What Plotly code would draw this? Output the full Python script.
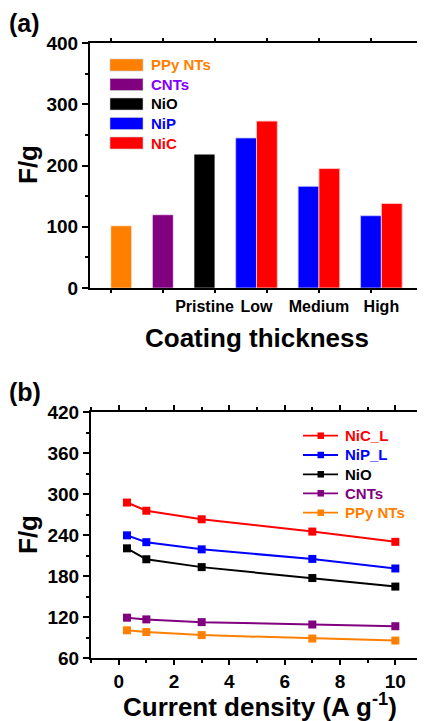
import plotly.graph_objects as go

# ---------------- data: panel (a) ----------------
single_names = ["PPy NTs", "CNTs", "NiO"]
single_pos = [1.5, 3.5, 5.5]
single_vals = [101.5, 119.5, 218.5]
single_colors = ["#FF8000", "#800080", "#000000"]

group_labels = ["Low", "Medium", "High"]
nip_pos = [7.5, 10.5, 13.5]
nic_pos = [8.5, 11.5, 14.5]
nip_vals = [245, 166, 118]
nic_vals = [272.5, 195, 138]

cat_tick_pos = [5.5, 8, 11, 14]
cat_tick_text = ["Pristine", "Low", "Medium", "High"]

# ---------------- data: panel (b) ----------------
current = [0.3, 1, 3, 7, 10]
nic_l = [287.5, 275.5, 263, 245, 230]
nip_l = [239.5, 229.5, 219, 205, 191]
nio_b = [220.5, 204.5, 193, 177, 164.5]
cnts_b = [119, 116.5, 112.5, 109, 106.5]
ppy_b = [100.5, 98, 93.5, 88.5, 85.5]

FONT = "Liberation Sans, Arial, sans-serif"
W, H = 425, 721
OX, OY = 8, 8  # page body margin offset

def px(x):
    return (x - OX) / W

def py(y):
    return 1 - (y - OY) / H

fig = go.Figure()

# bars (a)
for n, p, v, c in zip(single_names, single_pos, single_vals, single_colors):
    fig.add_trace(go.Bar(x=[p], y=[v], width=1, marker=dict(color=c, line=dict(color="rgba(255,255,255,0.5)", width=1)),
                         name=n, showlegend=False, xaxis="x", yaxis="y"))
fig.add_trace(go.Bar(x=nip_pos, y=nip_vals, width=1, marker=dict(color="#0000FF", line=dict(color="rgba(200,200,255,0.8)", width=1)),
                     name="NiP", showlegend=False, xaxis="x", yaxis="y"))
fig.add_trace(go.Bar(x=nic_pos, y=nic_vals, width=1, marker=dict(color="#FF0000", line=dict(color="rgba(255,200,200,0.9)", width=1)),
                     name="NiC", showlegend=False, xaxis="x", yaxis="y"))

# lines (b)
line_series = [("NiC_L", nic_l, "#FF0000"), ("NiP_L", nip_l, "#0000FF"), ("NiO", nio_b, "#000000"),
               ("CNTs", cnts_b, "#800080"), ("PPy NTs", ppy_b, "#FF8000")]
for n, ys, c in line_series:
    fig.add_trace(go.Scatter(x=current, y=ys, mode="lines+markers", name=n, showlegend=False,
                             line=dict(color=c, width=2), marker=dict(symbol="square", size=8, color=c),
                             xaxis="x2", yaxis="y2"))

axis_common = dict(showline=True, linecolor="black", linewidth=2, mirror="ticks", showgrid=False, zeroline=False,
                   ticks="outside", tickcolor="black", tickwidth=1.5, automargin=False,
                   tickfont=dict(family=FONT, size=19, color="black", weight="bold"))

fig.update_layout(
    width=W, height=H, margin=dict(l=0, r=0, t=0, b=0, autoexpand=False),
    paper_bgcolor="white", plot_bgcolor="white", barmode="overlay", showlegend=False,
    xaxis=dict(**{**axis_common, "tickfont": dict(family=FONT, size=16, color="black", weight="bold")},
               domain=[px(90), px(423)], anchor="y", range=[0, 16],
               tickvals=cat_tick_pos, ticktext=cat_tick_text, ticklen=0, ticklabelstandoff=3,
               minor=dict(tickvals=[1, 3.5, 6, 8.5, 11, 13.5], ticklen=3, ticks="outside", tickcolor="black", tickwidth=1.5)),
    yaxis=dict(**axis_common, domain=[py(288), py(43)], anchor="x", range=[0, 400], tickvals=[0, 100, 200, 300, 400],
               ticklen=6, minor=dict(dtick=50, ticklen=3, ticks="outside", tickcolor="black", tickwidth=1.5)),
    xaxis2=dict(**axis_common, domain=[px(91), px(423)], anchor="y2", range=[-1, 11], tickvals=[0, 2, 4, 6, 8, 10],
                ticklen=5, minor=dict(dtick=1, ticklen=3, ticks="outside", tickcolor="black", tickwidth=1.5)),
    yaxis2=dict(**axis_common, domain=[py(658), py(412)], anchor="x2", range=[60, 420],
                tickvals=[60, 120, 180, 240, 300, 360, 420], ticklen=6,
                minor=dict(dtick=30, ticklen=3, ticks="outside", tickcolor="black", tickwidth=1.5)),
)

ann = []
shapes = []

def text(x, y, s, size, color="black", angle=0, xanchor="center"):
    ann.append(dict(x=px(x), y=py(y), xref="paper", yref="paper", text=s, showarrow=False, textangle=angle,
                    xanchor=xanchor, yanchor="middle",
                    font=dict(family=FONT, size=size, color=color, weight="bold")))

# panel labels and titles
text(7, 23, "(a)", 25, xanchor="left")
text(7, 392, "(b)", 25, xanchor="left")
text(28, 165, "F/g", 26, angle=-90)
text(28, 535, "F/g", 26, angle=-90)
text(257, 338, "Coating thickness", 26)
text(260, 705, "Current density (A g<sup>-1</sup>)", 26)

# legend (a)
leg_a = [("PPy NTs", "#FF8000", "#FF8000"), ("CNTs", "#800080", "#8000FF"), ("NiO", "#000000", "#000000"),
         ("NiP", "#0000FF", "#0000FF"), ("NiC", "#FF0000", "#FF0000")]
ys_a = [65, 84.5, 104, 123.5, 143]
for (n, fc, tc), yy in zip(leg_a, ys_a):
    shapes.append(dict(type="rect", xref="paper", yref="paper", x0=px(110), x1=px(143), y0=py(yy + 6), y1=py(yy - 6),
                       fillcolor=fc, line=dict(color="rgba(200,200,200,0.6)", width=1)))
    text(149, yy, n, 15, color=tc, xanchor="left")

# legend (b)
ys_b = [435.7, 455, 474.3, 493.3, 512.7]
for (n, _, c), yy in zip(line_series, ys_b):
    shapes.append(dict(type="line", xref="paper", yref="paper", x0=px(303), x1=px(338), y0=py(yy), y1=py(yy),
                       line=dict(color=c, width=1.8)))
    shapes.append(dict(type="rect", xref="paper", yref="paper", x0=px(317.5), x1=px(324), y0=py(yy + 3.25), y1=py(yy - 3.25),
                       fillcolor=c, line=dict(width=0)))
    text(343, yy, n, 15, color=c, xanchor="left")

fig.update_layout(annotations=ann, shapes=shapes)
fig.write_html("out.html")
